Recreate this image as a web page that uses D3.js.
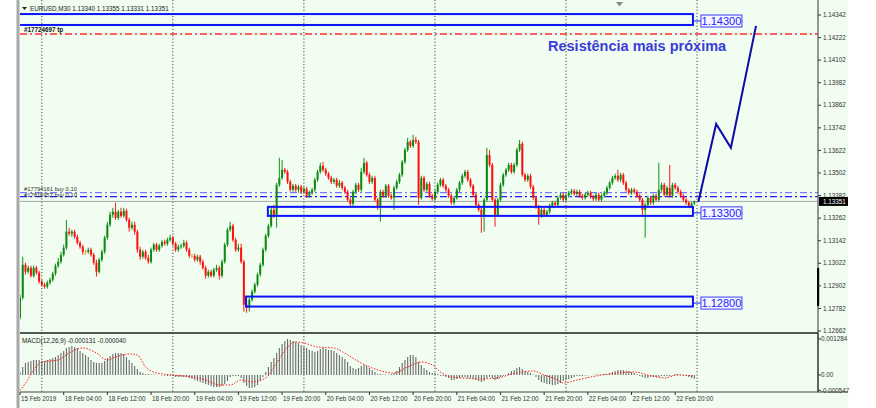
<!DOCTYPE html>
<html><head><meta charset="utf-8">
<script src="https://cdn.jsdelivr.net/npm/d3@7"></script>
<style>body{margin:0;background:#fff;} svg{display:block;}</style>
</head><body>
<svg id="c" width="876" height="408"></svg>
<script>
// ---------------- DATA ----------------
const symbolHeader = "EURUSD,M30  1.13340 1.13355 1.13331 1.13351";
const macdHeader = "MACD(12,26,9) -0.000131 -0.000040";
const firstOpen = 1.12733;
const closes = [
1.12839,1.13014,1.12977,1.12998,1.12956,1.12998,1.12972,1.12924,1.12908,1.12898,
1.12919,1.12935,1.12967,1.13009,1.13030,1.13067,1.13105,1.13190,1.13179,1.13190,
1.13163,1.13131,1.13110,1.13083,1.13083,1.13094,1.13067,1.13025,1.12977,1.13041,
1.13083,1.13158,1.13227,1.13280,1.13296,1.13264,1.13296,1.13274,1.13301,1.13253,
1.13211,1.13227,1.13190,1.13094,1.13057,1.13083,1.13051,1.13030,1.13094,1.13121,
1.13094,1.13115,1.13136,1.13126,1.13147,1.13158,1.13126,1.13094,1.13110,1.13115,
1.13131,1.13094,1.13062,1.13062,1.13041,1.13057,1.13030,1.12998,1.12956,1.12977,
1.12956,1.12988,1.12998,1.12956,1.13030,1.13121,1.13200,1.13221,1.13147,1.13094,
1.13105,1.13030,1.12802,1.12786,1.12829,1.12871,1.12908,1.12962,1.13014,1.13094,
1.13168,1.13221,1.13306,1.13274,1.13439,1.13476,1.13519,1.13508,1.13455,1.13413,
1.13434,1.13413,1.13429,1.13402,1.13418,1.13381,1.13397,1.13413,1.13466,1.13508,
1.13540,1.13519,1.13498,1.13476,1.13455,1.13466,1.13434,1.13450,1.13423,1.13402,
1.13360,1.13338,1.13402,1.13439,1.13413,1.13508,1.13556,1.13492,1.13455,1.13476,
1.13360,1.13328,1.13402,1.13381,1.13434,1.13381,1.13370,1.13423,1.13455,1.13492,
1.13561,1.13625,1.13668,1.13646,1.13678,1.13668,1.13370,1.13476,1.13413,1.13444,
1.13381,1.13365,1.13402,1.13439,1.13466,1.13434,1.13413,1.13381,1.13344,1.13370,
1.13413,1.13450,1.13487,1.13508,1.13466,1.13434,1.13386,1.13333,1.13306,1.13280,
1.13360,1.13598,1.13545,1.13360,1.13280,1.13360,1.13439,1.13492,1.13519,1.13545,
1.13508,1.13545,1.13625,1.13657,1.13492,1.13466,1.13487,1.13429,1.13370,1.13322,
1.13274,1.13306,1.13280,1.13296,1.13328,1.13344,1.13333,1.13370,1.13386,1.13360,
1.13381,1.13397,1.13407,1.13391,1.13402,1.13381,1.13370,1.13386,1.13397,1.13375,
1.13365,1.13386,1.13360,1.13381,1.13397,1.13423,1.13450,1.13476,1.13487,1.13466,
1.13492,1.13450,1.13413,1.13397,1.13413,1.13402,1.13381,1.13360,1.13306,1.13333,
1.13370,1.13344,1.13381,1.13360,1.13413,1.13439,1.13386,1.13423,1.13381,1.13439,
1.13423,1.13402,1.13381,1.13360,1.13344,1.13328,1.13340,1.13351];
const highs = [
1.12855,1.13057,1.13025,1.13009,1.13009,1.13009,1.13009,1.12982,1.12935,1.12919,
1.12930,1.12946,1.12977,1.13020,1.13051,1.13083,1.13121,1.13253,1.13211,1.13200,
1.13200,1.13174,1.13142,1.13121,1.13094,1.13105,1.13105,1.13078,1.13041,1.13051,
1.13094,1.13168,1.13243,1.13296,1.13317,1.13344,1.13306,1.13317,1.13317,1.13312,
1.13264,1.13243,1.13243,1.13200,1.13110,1.13094,1.13094,1.13067,1.13105,1.13131,
1.13131,1.13126,1.13147,1.13147,1.13158,1.13174,1.13168,1.13136,1.13121,1.13126,
1.13147,1.13142,1.13105,1.13073,1.13073,1.13067,1.13067,1.13041,1.13009,1.12988,
1.12988,1.12998,1.13014,1.13009,1.13041,1.13131,1.13211,1.13243,1.13232,1.13158,
1.13126,1.13126,1.13041,1.12829,1.12839,1.12882,1.12919,1.12972,1.13025,1.13105,
1.13179,1.13232,1.13322,1.13333,1.13450,1.13583,1.13572,1.13529,1.13519,1.13466,
1.13444,1.13444,1.13439,1.13439,1.13429,1.13429,1.13407,1.13423,1.13476,1.13519,
1.13556,1.13561,1.13529,1.13508,1.13487,1.13476,1.13476,1.13466,1.13460,1.13434,
1.13413,1.13370,1.13413,1.13450,1.13450,1.13529,1.13583,1.13567,1.13503,1.13487,
1.13487,1.13370,1.13413,1.13413,1.13444,1.13444,1.13391,1.13434,1.13466,1.13503,
1.13572,1.13636,1.13689,1.13678,1.13705,1.13694,1.13678,1.13487,1.13487,1.13455,
1.13455,1.13391,1.13413,1.13450,1.13476,1.13476,1.13444,1.13423,1.13391,1.13381,
1.13423,1.13460,1.13498,1.13519,1.13519,1.13476,1.13444,1.13397,1.13344,1.13317,
1.13370,1.13636,1.13625,1.13556,1.13370,1.13370,1.13450,1.13503,1.13529,1.13556,
1.13556,1.13556,1.13636,1.13678,1.13668,1.13503,1.13498,1.13498,1.13439,1.13381,
1.13333,1.13317,1.13317,1.13306,1.13338,1.13354,1.13354,1.13381,1.13397,1.13397,
1.13391,1.13407,1.13418,1.13418,1.13413,1.13413,1.13391,1.13397,1.13407,1.13407,
1.13386,1.13397,1.13397,1.13391,1.13407,1.13434,1.13460,1.13487,1.13498,1.13519,
1.13503,1.13503,1.13460,1.13423,1.13423,1.13423,1.13413,1.13391,1.13370,1.13344,
1.13381,1.13381,1.13391,1.13391,1.13556,1.13450,1.13450,1.13434,1.13545,1.13450,
1.13450,1.13434,1.13413,1.13391,1.13370,1.13354,1.13349,1.13355];
const lows = [
1.12722,1.12829,1.12962,1.12967,1.12946,1.12946,1.12962,1.12914,1.12898,1.12887,
1.12887,1.12908,1.12924,1.12956,1.12998,1.13020,1.13057,1.13094,1.13168,1.13163,
1.13152,1.13121,1.13099,1.13067,1.13067,1.13073,1.13057,1.13014,1.12951,1.12967,
1.13030,1.13073,1.13147,1.13216,1.13264,1.13253,1.13253,1.13264,1.13264,1.13243,
1.13190,1.13200,1.13174,1.13078,1.13041,1.13046,1.13041,1.13020,1.13020,1.13083,
1.13083,1.13083,1.13105,1.13115,1.13115,1.13136,1.13115,1.13083,1.13083,1.13099,
1.13105,1.13083,1.13051,1.13051,1.13030,1.13030,1.13014,1.12988,1.12940,1.12946,
1.12946,1.12946,1.12977,1.12935,1.12946,1.13020,1.13110,1.13190,1.13136,1.13083,
1.13083,1.13020,1.12765,1.12759,1.12765,1.12818,1.12861,1.12898,1.12951,1.13004,
1.13083,1.13158,1.13211,1.13264,1.13211,1.13429,1.13466,1.13498,1.13444,1.13402,
1.13402,1.13402,1.13397,1.13391,1.13391,1.13370,1.13370,1.13386,1.13402,1.13455,
1.13498,1.13508,1.13487,1.13466,1.13444,1.13444,1.13423,1.13423,1.13413,1.13391,
1.13349,1.13322,1.13328,1.13391,1.13402,1.13402,1.13498,1.13482,1.13444,1.13444,
1.13349,1.13306,1.13243,1.13370,1.13370,1.13370,1.13360,1.13306,1.13413,1.13444,
1.13482,1.13551,1.13614,1.13636,1.13636,1.13657,1.13333,1.13360,1.13402,1.13402,
1.13370,1.13354,1.13354,1.13391,1.13429,1.13423,1.13402,1.13370,1.13333,1.13333,
1.13360,1.13402,1.13439,1.13476,1.13455,1.13423,1.13375,1.13322,1.13296,1.13184,
1.13190,1.13349,1.13535,1.13349,1.13216,1.13269,1.13349,1.13429,1.13482,1.13508,
1.13498,1.13498,1.13535,1.13614,1.13482,1.13455,1.13455,1.13418,1.13360,1.13312,
1.13227,1.13264,1.13269,1.13269,1.13285,1.13317,1.13322,1.13322,1.13360,1.13349,
1.13349,1.13370,1.13386,1.13381,1.13381,1.13370,1.13360,1.13360,1.13375,1.13365,
1.13354,1.13354,1.13349,1.13349,1.13370,1.13386,1.13413,1.13439,1.13466,1.13455,
1.13455,1.13439,1.13402,1.13386,1.13386,1.13391,1.13370,1.13349,1.13269,1.13158,
1.13322,1.13333,1.13333,1.13349,1.13349,1.13402,1.13375,1.13375,1.13370,1.13370,
1.13413,1.13391,1.13370,1.13349,1.13333,1.13317,1.13317,1.13331];
const macd = [
0.000107,0.000286,0.000428,0.000464,0.000500,0.000536,0.000536,0.000536,0.000500,0.000500,
0.000536,0.000571,0.000607,0.000643,0.000714,0.000785,0.000857,0.000964,0.001000,0.001035,
0.001000,0.000964,0.000857,0.000785,0.000714,0.000643,0.000536,0.000464,0.000428,0.000428,
0.000428,0.000500,0.000607,0.000678,0.000750,0.000785,0.000785,0.000785,0.000750,0.000643,
0.000536,0.000428,0.000321,0.000214,0.000107,0.000071,0.000036,0.000036,0.000018,0.000018,
0.000004,-0.000004,-0.000018,-0.000018,-0.000036,-0.000036,-0.000036,-0.000071,-0.000071,-0.000071,
-0.000071,-0.000071,-0.000107,-0.000143,-0.000179,-0.000214,-0.000250,-0.000286,-0.000321,-0.000357,
-0.000393,-0.000428,-0.000428,-0.000428,-0.000393,-0.000321,-0.000214,-0.000071,-0.000036,-0.000036,
-0.000036,-0.000107,-0.000286,-0.000393,-0.000464,-0.000464,-0.000428,-0.000357,-0.000214,-0.000071,
0.000107,0.000286,0.000464,0.000607,0.000785,0.000964,0.001107,0.001214,0.001284,0.001250,
0.001214,0.001178,0.001142,0.001071,0.001000,0.000964,0.000893,0.000857,0.000821,0.000857,
0.000928,0.000964,0.000928,0.000893,0.000893,0.000857,0.000785,0.000714,0.000643,0.000571,
0.000464,0.000321,0.000250,0.000214,0.000250,0.000321,0.000357,0.000321,0.000250,0.000179,
0.000107,0.000036,0.000036,0.000018,0.000018,0.000018,0.000036,0.000071,0.000143,0.000286,
0.000428,0.000536,0.000643,0.000714,0.000714,0.000643,0.000464,0.000357,0.000250,0.000179,
0.000107,0.000071,0.000071,0.000036,-0.000036,-0.000036,-0.000071,-0.000107,-0.000179,-0.000179,
-0.000143,-0.000107,-0.000071,-0.000071,-0.000107,-0.000107,-0.000143,-0.000179,-0.000214,-0.000250,
-0.000214,-0.000107,-0.000071,-0.000107,-0.000179,-0.000143,-0.000071,-0.000036,0.000018,0.000071,
0.000143,0.000179,0.000250,0.000286,0.000214,0.000143,0.000107,0.000071,0.000018,-0.000071,
-0.000179,-0.000250,-0.000286,-0.000321,-0.000321,-0.000357,-0.000357,-0.000321,-0.000286,-0.000214,
-0.000179,-0.000143,-0.000107,-0.000071,-0.000036,-0.000036,-0.000036,-0.000018,-0.000018,-0.000005,
0.000005,0.000018,0.000018,0.000018,0.000036,0.000036,0.000071,0.000107,0.000143,0.000179,
0.000179,0.000179,0.000143,0.000143,0.000107,0.000071,0.000036,-0.000036,-0.000071,-0.000107,
-0.000107,-0.000071,-0.000071,-0.000071,-0.000071,-0.000036,-0.000036,-0.000036,-0.000036,-0.000018,
0.000036,0.000036,0.000018,-0.000018,-0.000036,-0.000071,-0.000107,-0.000131];
const signalIdx = [0,2,5,8,14,18,23,28,32,35,40,43,46,50,56,63,68,73,77,81,85,90,94,98,101,104,109,115,120,125,129,137,142,147,151,154,158,162,168,175,179,184,188,192,197,199,204,211,219,225,230,236,241,247];
const signal = [-0.000547,-0.000296,0.000179,0.000464,0.000536,0.000785,0.000964,0.000785,0.000536,0.000643,0.000750,0.000714,0.000286,0.000071,0.000000,-0.000071,-0.000179,-0.000357,-0.000357,-0.000179,-0.000250,-0.000107,0.000428,0.001000,0.001178,0.001142,0.001000,0.000964,0.000714,0.000428,0.000250,0.000071,0.000286,0.000464,0.000357,0.000107,-0.000071,-0.000107,-0.000143,-0.000107,0.000000,0.000107,0.000143,0.000000,-0.000179,-0.000286,-0.000179,-0.000036,0.000071,0.000107,0.000000,-0.000107,0.000000,-0.000040];
const priceTicks = [1.14342,1.14222,1.14102,1.13982,1.13862,1.13742,1.13622,1.13502,1.13382,1.13262,1.13142,1.13022,1.12902,1.12782,1.12662];
const macdTicks = [0.001284,0.00,-0.000547];
const macdTickLabels = ["0.001284","0.00","-0.000547"];
const timeIdx = [0,16,32,48,64,80,96,112,128,144,160,176,192,208,224,240];
const timeLabels = ["15 Feb 2019","18 Feb 04:00","18 Feb 12:00","18 Feb 20:00","19 Feb 04:00","19 Feb 12:00","19 Feb 20:00","20 Feb 04:00","20 Feb 12:00","20 Feb 20:00","21 Feb 04:00","21 Feb 12:00","21 Feb 20:00","22 Feb 04:00","22 Feb 12:00","22 Feb 20:00"];
const separatorIdx = [8,56,104,152,200,248];
const zones = [
  {label:"1.14300", start:-3, end:246.5, top:1.14347, bottom:1.14289},
  {label:"1.13300", start:90.8, end:246.5, top:1.13322, bottom:1.13274},
  {label:"1.12800", start:82.8, end:246.5, top:1.12845, bottom:1.12792}
];
const tpPrice = 1.14241, tpLabel = "#17724697 tp";
const orderPrices = [1.13398, 1.13376];
const orderLabels = ["#17794161 buy 0.10", "#17816957 buy 0.10"];
const bidPrice = 1.13351;
const projIdx = [248.5, 255, 260.4, 269.6];
const projPrice = [1.13349, 1.13763, 1.13636, 1.14284];
const annotation = "Resistência mais próxima";

// ---------------- DRAW ----------------
const svg = d3.select("#c");
const L = 20, R = 818, mainTop = 0, mainBot = 333, mTop = 334.5, mBot = 392;
const x = d3.scaleLinear().domain([0, 247]).range([20, 20 + 247 * 2.73]);
const y = d3.scaleLinear().domain([1.12662, 1.14342]).range([331, 15]);
const ym = d3.scaleLinear().domain([-0.000547, 0.001284]).range([390.3, 339]);
const FONT = "'Liberation Sans', Arial, sans-serif";
const bg = "#f0fdf0";

svg.append("rect").attr("x", 0).attr("y", 0).attr("width", 876).attr("height", 408).attr("fill", "#fff");
svg.append("rect").attr("x", 17).attr("y", 0).attr("width", 831).attr("height", 408).attr("fill", bg);
svg.append("rect").attr("x", 16.5).attr("y", 0).attr("width", 3).attr("height", 408).attr("fill", "#a8a8a8");

const defs = svg.append("defs");
defs.append("clipPath").attr("id", "cm").append("rect").attr("x", L).attr("y", mainTop).attr("width", R - L).attr("height", mainBot - mainTop);
defs.append("clipPath").attr("id", "cd").append("rect").attr("x", L).attr("y", mTop).attr("width", R - L).attr("height", mBot - mTop);

const gm = svg.append("g").attr("clip-path", "url(#cm)");
const gd = svg.append("g").attr("clip-path", "url(#cd)");

// period separators
separatorIdx.forEach(i => {
  svg.append("line").attr("x1", x(i)).attr("x2", x(i)).attr("y1", 0).attr("y2", mBot)
    .attr("stroke", "#444").attr("stroke-width", 1).attr("stroke-dasharray", "1.2,2");
});

// tp line
gm.append("line").attr("x1", L).attr("x2", R).attr("y1", y(tpPrice)).attr("y2", y(tpPrice))
  .attr("stroke", "#ff2a2a").attr("stroke-width", 1.6).attr("stroke-dasharray", "7,3,2,3");
gm.append("text").attr("x", 24).attr("y", y(tpPrice) - 2).attr("font-family", FONT).attr("font-size", 6.3)
  .attr("font-weight", "bold").attr("fill", "#111").text(tpLabel);

// order lines
orderPrices.forEach((p, k) => {
  gm.append("line").attr("x1", L).attr("x2", R).attr("y1", y(p)).attr("y2", y(p))
    .attr("stroke", k === 0 ? "#7878ff" : "#1a1aff").attr("stroke-width", 1.2).attr("stroke-dasharray", "7,3,2,3");
});
orderLabels.forEach((t, k) => {
  gm.append("text").attr("x", 24).attr("y", k === 0 ? y(orderPrices[0]) - 1.2 : y(orderPrices[1]) + 0.6)
    .attr("font-family", FONT).attr("font-size", 5.8).attr("fill", "#333").text(t);
});
// bid line
gm.append("line").attr("x1", L).attr("x2", R).attr("y1", y(bidPrice)).attr("y2", y(bidPrice))
  .attr("stroke", "#a0a8a8").attr("stroke-width", 1);

// candles
const bars = closes.map((c, i) => {
  const o = i === 0 ? firstOpen : closes[i - 1];
  return {i, o, c, h: Math.max(highs[i], o, c), l: Math.min(lows[i], o, c)};
});
const cg = gm.append("g");
cg.selectAll("line.w").data(bars).join("line").attr("class", "w")
  .attr("x1", d => x(d.i)).attr("x2", d => x(d.i)).attr("y1", d => y(d.h)).attr("y2", d => y(d.l))
  .attr("stroke", d => d.c > d.o ? "#16901a" : d.c < d.o ? "#ff1a1a" : "#e8a040").attr("stroke-width", 1);
cg.selectAll("rect.b").data(bars).join("rect").attr("class", "b")
  .attr("x", d => x(d.i) - 1).attr("width", 2)
  .attr("y", d => y(Math.max(d.o, d.c)))
  .attr("height", d => Math.max(1, Math.abs(y(d.o) - y(d.c))))
  .attr("fill", d => d.c > d.o ? "#0c8a10" : d.c < d.o ? "#ff1010" : "#e8a040");

// zones
zones.forEach(z => {
  const x0 = x(z.start), x1 = x(z.end);
  gm.append("rect").attr("x", x0).attr("y", y(z.top)).attr("width", x1 - x0).attr("height", y(z.bottom) - y(z.top))
    .attr("fill", "none").attr("stroke", "#0a14ff").attr("stroke-width", 2);
  const ym2 = (y(z.top) + y(z.bottom)) / 2 + 1.5;
  svg.append("line").attr("x1", x1).attr("x2", x1 + 8).attr("y1", ym2).attr("y2", ym2).attr("stroke", "#1a1aff").attr("stroke-width", 1);
  svg.append("rect").attr("x", x1 + 8).attr("y", ym2 - 6).attr("width", 41).attr("height", 12)
    .attr("fill", "#f4f8ff").attr("stroke", "#3a3aff").attr("stroke-width", 1);
  svg.append("text").attr("x", x1 + 28.5).attr("y", ym2 + 4.2).attr("text-anchor", "middle")
    .attr("font-family", FONT).attr("font-size", 11).attr("fill", "#2020ff").text(z.label);
});

// projection path
const pl = d3.line().x((d, k) => x(projIdx[k])).y(d => y(d));
svg.append("path").attr("d", pl(projPrice)).attr("fill", "none").attr("stroke", "#0c0ca8").attr("stroke-width", 2);

// annotation
svg.append("text").attr("x", 548).attr("y", 51).attr("font-family", FONT).attr("font-size", 14.5)
  .attr("font-weight", "bold").attr("fill", "#3b3bd8").text(annotation);

// header
svg.append("path").attr("d", "M22,7 L27,7 L24.5,10 Z").attr("fill", "#222");
svg.append("text").attr("x", 30).attr("y", 10.5).attr("font-family", FONT).attr("font-size", 6.3).attr("fill", "#222").text(symbolHeader);
svg.append("path").attr("d", "M616,2 L623,2 L619.5,6.5 Z").attr("fill", "#8a8a8a");

// MACD panel
gd.selectAll("line.m").data(macd).join("line").attr("class", "m")
  .attr("x1", (d, i) => x(i)).attr("x2", (d, i) => x(i))
  .attr("y1", ym(0)).attr("y2", d => ym(d) === ym(0) ? ym(0) - 0.6 : ym(d))
  .attr("stroke", "#6a6a6a").attr("stroke-width", 1.1);
const sl = d3.line().x((d, k) => x(signalIdx[k])).y(d => ym(d)).curve(d3.curveMonotoneX);
gd.append("path").attr("d", sl(signal)).attr("fill", "none").attr("stroke", "#ff1a1a")
  .attr("stroke-width", 1).attr("stroke-dasharray", "1.5,1.5");
svg.append("text").attr("x", 22).attr("y", 343).attr("font-family", FONT).attr("font-size", 6.3).attr("fill", "#222").text(macdHeader);

// frames
svg.append("line").attr("x1", R).attr("x2", R).attr("y1", 0).attr("y2", mBot).attr("stroke", "#555").attr("stroke-width", 1.2);
svg.append("line").attr("x1", L).attr("x2", R).attr("y1", 333).attr("y2", 333).attr("stroke", "#222").attr("stroke-width", 1.6);
svg.append("line").attr("x1", L).attr("x2", R + 30).attr("y1", mBot).attr("y2", mBot).attr("stroke", "#444").attr("stroke-width", 1.2);
svg.append("line").attr("x1", R).attr("x2", R).attr("y1", 333).attr("y2", mBot).attr("stroke", "#444").attr("stroke-width", 1.2);
svg.append("rect").attr("x", R - 1).attr("y", 268).attr("width", 2.2).attr("height", 38).attr("fill", "#000");

// price axis
priceTicks.forEach(p => {
  svg.append("line").attr("x1", R).attr("x2", R + 3).attr("y1", y(p)).attr("y2", y(p)).attr("stroke", "#333");
  svg.append("text").attr("x", R + 5).attr("y", y(p) + 2.2).attr("font-family", FONT).attr("font-size", 6.3).attr("fill", "#333").text(p.toFixed(5));
});
svg.append("rect").attr("x", R + 1).attr("y", y(bidPrice) - 4.5).attr("width", 29).attr("height", 9).attr("fill", "#000");
svg.append("text").attr("x", R + 5).attr("y", y(bidPrice) + 2.2).attr("font-family", FONT).attr("font-size", 6.3).attr("fill", "#fff").text(bidPrice.toFixed(5));

// macd axis
macdTicks.forEach((v, k) => {
  svg.append("line").attr("x1", R).attr("x2", R + 3).attr("y1", ym(v)).attr("y2", ym(v)).attr("stroke", "#333");
  svg.append("text").attr("x", R + 3).attr("y", ym(v) + 2.2).attr("font-family", FONT).attr("font-size", 6.3).attr("fill", "#333").text(macdTickLabels[k]);
});

// time axis
timeIdx.forEach((i, k) => {
  svg.append("line").attr("x1", x(i)).attr("x2", x(i)).attr("y1", mBot).attr("y2", mBot + 3).attr("stroke", "#333");
  svg.append("text").attr("x", x(i) + 1).attr("y", 401).attr("font-family", FONT).attr("font-size", 6.3).attr("fill", "#333").text(timeLabels[k]);
});
</script>
</body></html>
